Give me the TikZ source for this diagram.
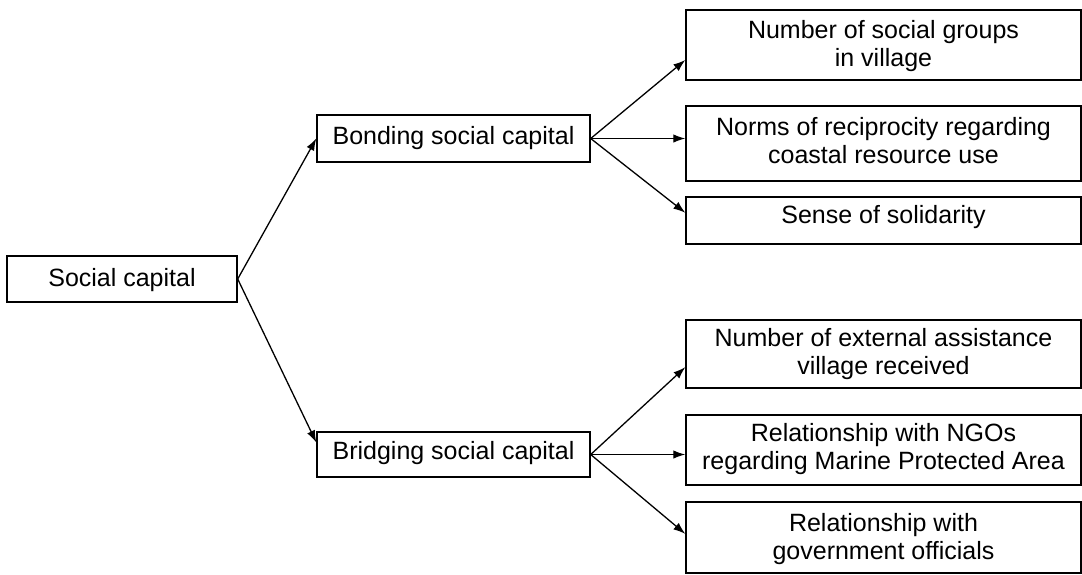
\documentclass[tikz,border=0pt]{standalone}
\usepackage{fontspec}
\setmainfont{Liberation Sans}
\usetikzlibrary{arrows.meta,calc}
\begin{document}
\begin{tikzpicture}[x=1pt,y=-1pt,
  box/.style={draw=black, line width=1.4pt, rectangle, inner sep=0pt},
  leftbox/.style={box, minimum width=273pt},
  rightbox/.style={box, minimum width=395pt},
  txt/.style={font=\fontsize{25pt}{28pt}\selectfont, align=center, anchor=north, inner sep=0pt},
  link/.style={line width=1.3pt, -{Latex[length=12pt,width=8.5pt]}}]
\useasboundingbox (0,0) rectangle (1082,574);

% root
\node[box, minimum width=230pt, minimum height=46pt] (sc) at (122,279) {};
\node[txt] (sct) at ($(sc.north)+(0,13)$) {Social capital};

% second level
\node[leftbox, minimum height=47pt] (bo) at (453.5,138.5) {};
\node[txt] (bot) at ($(bo.north)+(0,12)$) {Bonding social capital};
\node[leftbox, minimum height=45pt] (br) at (453.5,454.5) {};
\node[txt] (brt) at ($(br.north)+(0,10)$) {Bridging social capital};

% indicators
\node[rightbox, minimum height=70pt] (r1) at (883.5,45) {};
\node[txt] (r1t) at ($(r1.north)+(0,11)$) {Number of social groups\\in village};
\node[rightbox, minimum height=75pt] (r2) at (883.5,143.5) {};
\node[txt] (r2t) at ($(r2.north)+(0,12)$) {Norms of reciprocity regarding\\coastal resource use};
\node[rightbox, minimum height=47pt] (r3) at (883.5,220.5) {};
\node[txt] (r3t) at ($(r3.north)+(0,9)$) {Sense of solidarity};
\node[rightbox, minimum height=68pt] (r4) at (883.5,354) {};
\node[txt] (r4t) at ($(r4.north)+(0,9)$) {Number of external assistance\\village received};
\node[rightbox, minimum height=70pt] (r5) at (883.5,450) {};
\node[txt] (r5t) at ($(r5.north)+(0,9)$) {Relationship with NGOs\\regarding Marine Protected Area};
\node[rightbox, minimum height=71pt] (r6) at (883.5,537.5) {};
\node[txt] (r6t) at ($(r6.north)+(0,12)$) {Relationship with\\government officials};

% connectors
\draw[link] (sc.east) -- (bo.west);
\draw[link] (sc.east) -- ($(br.north west)!0.24!(br.south west)$);

\draw[link] (bo.east) -- ($(r1.north west)!0.71!(r1.south west)$);
\draw[link] (bo.east) -- (bo.east -| r2.west);
\draw[link] (bo.east) -- ($(r3.north west)!0.34!(r3.south west)$);

\draw[link] (br.east) -- ($(r4.north west)!0.69!(r4.south west)$);
\draw[link] (br.east) -- (br.east -| r5.west);
\draw[link] (br.east) -- ($(r6.north west)!0.45!(r6.south west)$);
\end{tikzpicture}
\end{document}
